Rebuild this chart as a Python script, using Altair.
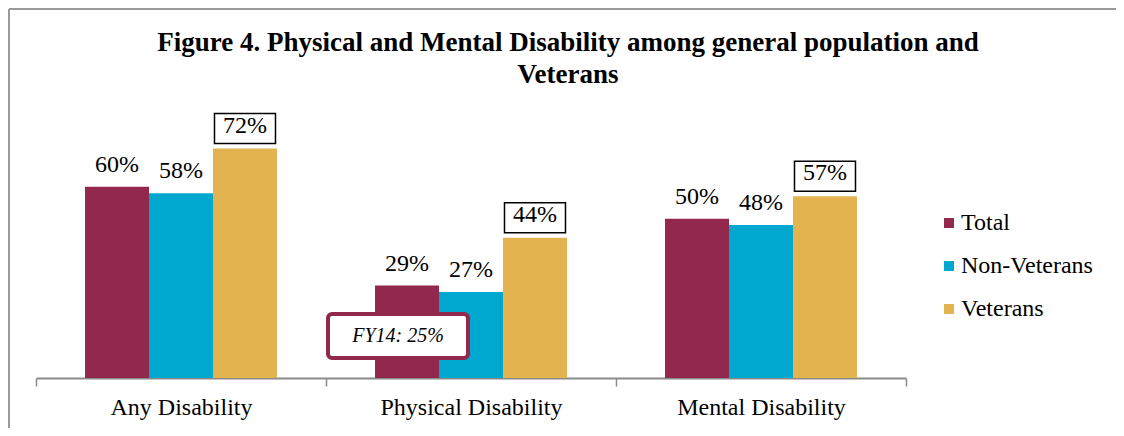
import altair as alt
import pandas as pd

categories = ["Any Disability", "Physical Disability", "Mental Disability"]
series = ["Total", "Non-Veterans", "Veterans"]
total_vals = [60, 29, 50]
nonvet_vals = [58, 27, 48]
vet_vals = [72, 44, 57]
colors = ["#93284F", "#00A8D0", "#E2B34F"]

note_text = ["FY14: 25%"]
note_category = ["Physical Disability"]
note_lo = [6.3]
note_hi = [20.1]

rows = []
for s, vals in zip(series, [total_vals, nonvet_vals, vet_vals]):
    for c, v in zip(categories, vals):
        rows.append({"category": c, "series": s, "value": v, "label": f"{v}%"})
df = pd.DataFrame(rows)
note_df = pd.DataFrame({"category": note_category, "text": note_text, "lo": note_lo, "hi": note_hi,
                        "mid": [(a + b) / 2 for a, b in zip(note_lo, note_hi)]})
one = pd.DataFrame({"a": [0]})

FONT = "Liberation Serif"

x_enc = alt.X("category:N", sort=categories, title=None,
              scale=alt.Scale(paddingInner=0, paddingOuter=0),
              axis=alt.Axis(labelAngle=0, labelFont=FONT, labelFontSize=24, labelColor="#000",
                            labelLimit=400,
                            domainColor="#8a8a8a", domainWidth=2, tickColor="#8a8a8a", tickWidth=1.5,
                            tickSize=8, tickBand="extent", labelPadding=9, grid=False))
xo_enc = alt.XOffset("series:N", sort=series, scale=alt.Scale(paddingInner=0, paddingOuter=0.766))
y_scale = alt.Scale(domain=[0, 80])

base = alt.Chart(df)

bars = base.mark_bar().encode(
    x=x_enc, xOffset=xo_enc,
    y=alt.Y("value:Q", scale=y_scale, axis=None, stack=False),
    color=alt.Color("series:N", sort=series, scale=alt.Scale(domain=series, range=colors),
                    legend=alt.Legend(title=None, orient="none", legendX=901, legendY=88,
                                      symbolType="square", symbolSize=100, symbolStrokeWidth=0,
                                      labelFont=FONT, labelFontSize=24, labelColor="#000",
                                      labelOffset=0, rowPadding=19, padding=0)),
)

plain_text = base.transform_filter(alt.datum.series != "Veterans").mark_text(
    font=FONT, fontSize=24, baseline="alphabetic", dy=-15, color="#000"
).encode(x=alt.X("category:N", sort=categories), xOffset=xo_enc,
         y=alt.Y("value:Q", scale=y_scale, stack=False), text="label:N")

vet_box = base.transform_filter(alt.datum.series == "Veterans").mark_bar(
    width=61, fill="white", stroke="#000", strokeWidth=1.5, yOffset=-5, y2Offset=-35
).encode(x=alt.X("category:N", sort=categories), xOffset=xo_enc,
         y=alt.Y("value:Q", scale=y_scale, stack=False), y2="value:Q")

vet_text = base.transform_filter(alt.datum.series == "Veterans").mark_text(
    font=FONT, fontSize=24, baseline="alphabetic", dy=-16, color="#000"
).encode(x=alt.X("category:N", sort=categories), xOffset=xo_enc,
         y=alt.Y("value:Q", scale=y_scale, stack=False), text="label:N")

note_box = alt.Chart(note_df).mark_bar(
    width=140, fill="white", stroke="#93284F", strokeWidth=4, cornerRadius=4, xOffset=-73
).encode(x=alt.X("category:N", sort=categories), y=alt.Y("lo:Q", scale=y_scale), y2="hi:Q")

note_txt = alt.Chart(note_df).mark_text(
    font=FONT, fontSize=20, fontStyle="italic", color="#000", dx=-73, baseline="middle"
).encode(x=alt.X("category:N", sort=categories), y=alt.Y("mid:Q", scale=y_scale), text="text:N")

border_top = alt.Chart(one).mark_rule(color="#9a9a9a", strokeWidth=2).encode(
    x=alt.value(-27), x2=alt.value(1100), y=alt.value(-114))
border_left = alt.Chart(one).mark_rule(color="#9a9a9a", strokeWidth=2).encode(
    x=alt.value(-27), y=alt.value(-114), y2=alt.value(330))

chart = alt.layer(border_top, border_left, bars, plain_text, vet_box, vet_text, note_box, note_txt).properties(
    width=870, height=255,
    autosize=alt.AutoSizeParams(type="none"),
    padding={"left": 28, "top": 115, "right": 210, "bottom": 50},
    title=alt.TitleParams(
        text=["Figure 4. Physical and Mental Disability among general population and", "Veterans"],
        font=FONT, fontSize=27, fontWeight="bold", color="#000", anchor="middle",
        frame="group", dx=97, offset=0, dy=81, lineHeight=32),
).configure_view(strokeWidth=0)

chart.save("out.html", embed_options={"renderer": "svg", "actions": False})
